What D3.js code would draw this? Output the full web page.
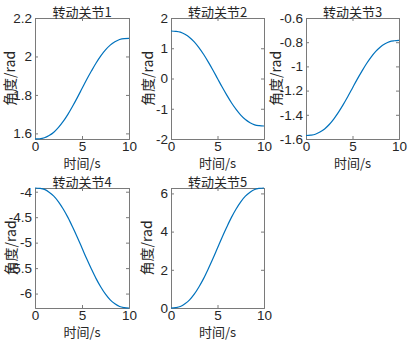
<!DOCTYPE html>
<html>
<head>
<meta charset="utf-8">
<script src="https://cdn.jsdelivr.net/npm/d3@7"></script>
<style>
  body { margin: 0; background: #fff; }
  svg text { fill: #262626; }
</style>
</head>
<body>
<div id="chart"></div>
<script>
// time samples (s)
const time = [0, 0.5, 1, 1.5, 2, 2.5, 3, 3.5, 4, 4.5, 5, 5.5, 6, 6.5, 7, 7.5, 8, 8.5, 9, 9.5, 10];

// joint angles (rad)
const joint1 = [1.571, 1.572, 1.577, 1.589, 1.606, 1.631, 1.662, 1.699, 1.741, 1.786, 1.833, 1.880, 1.924, 1.966, 2.003, 2.034, 2.059, 2.076, 2.088, 2.093, 2.094];
const joint2 = [1.571, 1.561, 1.533, 1.461, 1.357, 1.210, 1.021, 0.801, 0.550, 0.283, 0, -0.283, -0.550, -0.801, -1.021, -1.210, -1.357, -1.461, -1.533, -1.561, -1.571];
const joint3 = [-1.571, -1.568, -1.561, -1.543, -1.517, -1.480, -1.433, -1.378, -1.316, -1.249, -1.178, -1.107, -1.041, -0.978, -0.923, -0.876, -0.839, -0.813, -0.795, -0.788, -0.785];
const joint4 = [-3.927, -3.934, -3.955, -4.010, -4.087, -4.198, -4.339, -4.504, -4.693, -4.893, -5.105, -5.317, -5.517, -5.706, -5.871, -6.012, -6.123, -6.201, -6.255, -6.276, -6.283];
const joint5 = [0, 0.019, 0.075, 0.220, 0.427, 0.723, 1.100, 1.539, 2.042, 2.576, 3.142, 3.707, 4.241, 4.744, 5.184, 5.561, 5.856, 6.063, 6.208, 6.264, 6.283];

const titles = ["转动关节1", "转动关节2", "转动关节3", "转动关节4", "转动关节5"];
const xTicks = [0, 5, 10];
const yDomains = [[1.5708, 2.2], [-2, 2], [-1.6, -0.6], [-6.2832, -3.927], [0, 6.2832]];
const yTicks = [[1.6, 1.8, 2, 2.2], [-2, -1, 0, 1, 2], [-1.6, -1.4, -1.2, -1, -0.8, -0.6], [-6, -5.5, -5, -4.5, -4], [0, 2, 4, 6]];
const series = [joint1, joint2, joint3, joint4, joint5];

// panel boxes: left, top, width, height, ylabel offset
const panels = [
  {x: 35, y: 18, w: 94, h: 121, lab: 26},
  {x: 171, y: 18, w: 93, h: 121, lab: 24},
  {x: 306, y: 18, w: 93, h: 121, lab: 31},
  {x: 35, y: 188, w: 94, h: 120, lab: 25},
  {x: 171, y: 188, w: 93, h: 120, lab: 25}
];

const svg = d3.select("#chart")
  .append("svg")
  .attr("width", 409)
  .attr("height", 341)
  .style("font-family", "Lato, 'Noto Sans', sans-serif");

const axisColor = "#7a7a7a";
const cjk = "'Noto Sans CJK SC', sans-serif";

panels.forEach(function(p, i) {
  const g = svg.append("g").attr("transform", `translate(${p.x},${p.y})`);

  const x = d3.scaleLinear().domain([0, 10]).range([0, p.w]);
  const y = d3.scaleLinear().domain(yDomains[i]).range([p.h, 0]);

  // bottom + left axes, ticks pointing inward
  const xa = g.append("g")
    .attr("transform", `translate(0,${p.h})`)
    .call(d3.axisBottom(x).tickValues(xTicks).tickSize(-3).tickPadding(2).tickFormat(d3.format("d")));
  const ya = g.append("g")
    .call(d3.axisLeft(y).tickValues(yTicks[i]).tickSize(-3).tickPadding(3).tickFormat(d => String(d)));

  // mirrored ticks on top and right
  g.append("g").call(d3.axisTop(x).tickValues(xTicks).tickSize(-3).tickFormat(""));
  g.append("g").attr("transform", `translate(${p.w},0)`)
    .call(d3.axisRight(y).tickValues(yTicks[i]).tickSize(-3).tickFormat(""));

  g.selectAll(".domain").attr("stroke", axisColor);
  g.selectAll(".tick line").attr("stroke", axisColor);
  [xa, ya].forEach(a => a.selectAll("text")
    .style("font-size", "13.5px")
    .attr("fill", "#262626"));

  // the curve
  const data = time.map((t, k) => ({t: t, v: series[i][k]}));
  g.append("path")
    .datum(data)
    .attr("fill", "none")
    .attr("stroke", "#0072BD")
    .attr("stroke-width", 1.2)
    .attr("d", d3.line().x(d => x(d.t)).y(d => y(d.v)).curve(d3.curveMonotoneX));

  // title
  g.append("text")
    .attr("x", p.w / 2)
    .attr("y", -1)
    .attr("text-anchor", "middle")
    .style("font-family", cjk)
    .style("font-size", "13px")
    .text(titles[i]);

  // x label
  g.append("text")
    .attr("x", p.w / 2)
    .attr("y", p.h + 29)
    .attr("text-anchor", "middle")
    .style("font-family", cjk)
    .style("font-size", "13px")
    .text("时间/s");

  // y label
  g.append("text")
    .attr("transform", `translate(${-p.lab},${p.h / 2}) rotate(-90)`)
    .attr("text-anchor", "middle")
    .attr("dominant-baseline", "central")
    .style("font-family", cjk)
    .style("font-size", "14px")
    .text("角度/rad");
});
</script>
</body>
</html>
